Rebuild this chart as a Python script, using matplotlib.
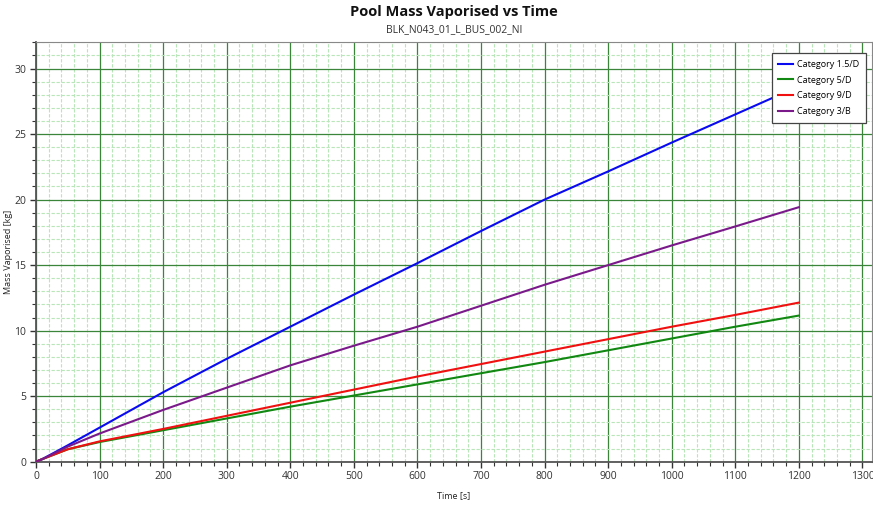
import matplotlib
matplotlib.use("Agg")
import matplotlib.pyplot as plt
from matplotlib.ticker import MultipleLocator

plt.rcParams['font.family'] = ['Open Sans', 'DejaVu Sans']

# Time axis [s] and cumulative vaporised mass [kg] per weather category
time_s = [0, 10, 50, 100, 200, 300, 400, 500, 600, 700, 800, 900, 1000, 1100, 1200]
mass_15D = [0, 0.2, 1.25, 2.6, 5.3, 7.85, 10.3, 12.75, 15.15, 17.6, 20.0, 22.15, 24.35, 26.5, 28.65]
mass_5D = [0, 0.2, 0.95, 1.5, 2.4, 3.3, 4.2, 5.05, 5.9, 6.75, 7.6, 8.5, 9.4, 10.3, 11.15]
mass_9D = [0, 0.2, 0.95, 1.55, 2.5, 3.5, 4.5, 5.5, 6.5, 7.45, 8.4, 9.35, 10.3, 11.2, 12.14]
mass_3B = [0, 0.2, 1.15, 2.15, 3.95, 5.65, 7.35, 8.85, 10.3, 11.9, 13.5, 15.0, 16.5, 17.95, 19.42]

series_labels = ["Category 1.5/D", "Category 5/D", "Category 9/D", "Category 3/B"]
series_values = [mass_15D, mass_5D, mass_9D, mass_3B]
series_colors = ["#0a0af0", "#118811", "#f01010", "#7a1a8a"]

title = "Pool Mass Vaporised vs Time"
subtitle = "BLK_N043_01_L_BUS_002_NI"

W, H = 873, 505
fig = plt.figure(figsize=(W / 100, H / 100), dpi=100)
left, right, top, bottom = 36, 872, 42.3, 461.7
ax = fig.add_axes([left / W, 1 - bottom / H, (right - left) / W, (bottom - top) / H])

for label, vals, col in zip(series_labels, series_values, series_colors):
    ax.plot(time_s, vals, color=col, lw=1.5, label=label, zorder=3)

ax.set_xlim(0, 1315)
ax.set_ylim(0, 32)
ax.xaxis.set_major_locator(MultipleLocator(100))
ax.xaxis.set_minor_locator(MultipleLocator(20))
ax.yaxis.set_major_locator(MultipleLocator(5))
ax.yaxis.set_minor_locator(MultipleLocator(1))

ax.grid(which='major', color='#3a853a', lw=0.9, zorder=1)
ax.grid(which='minor', color='#b8e6b8', lw=0.8, ls=(0, (3, 1.5)), zorder=0)
ax.set_axisbelow(True)

for side in ('left', 'bottom'):
    ax.spines[side].set_color('#555555')
    ax.spines[side].set_linewidth(1.3)
for side in ('top', 'right'):
    ax.spines[side].set_color('#888888')
    ax.spines[side].set_linewidth(0.8)

ax.tick_params(which='major', direction='out', length=4, width=1, color='#333333',
               labelsize=7.5, labelcolor='#333333', pad=3)
ax.tick_params(which='minor', direction='out', length=3, width=0.8, color='#333333')

ax.set_xlabel("Time [s]", fontsize=6.5, color='#222222', labelpad=6)
fig.text(8.5 / W, 1 - 252 / H, "Mass Vaporised [kg]", rotation=90, ha='center',
         va='center', fontsize=6.5, color='#222222')

cx = (left + right) / 2 / W
fig.text(cx, 1 - 12 / H, title, ha='center', va='center', fontsize=10.5,
         fontweight='bold', color='#111111')
fig.text(cx, 1 - 30 / H, subtitle, ha='center', va='center', fontsize=7.5,
         color='#333333')

leg = ax.legend(loc='upper right', fontsize=6.5, frameon=True, fancybox=False,
                borderpad=0.75, handlelength=1.6, handletextpad=0.5,
                labelspacing=0.75, bbox_to_anchor=(0.9985, 0.985))
leg.get_frame().set_edgecolor('#444444')
leg.get_frame().set_linewidth(0.9)
leg.get_frame().set_facecolor('white')
leg.get_frame().set_alpha(1)

fig.savefig("out.png", dpi=100)
